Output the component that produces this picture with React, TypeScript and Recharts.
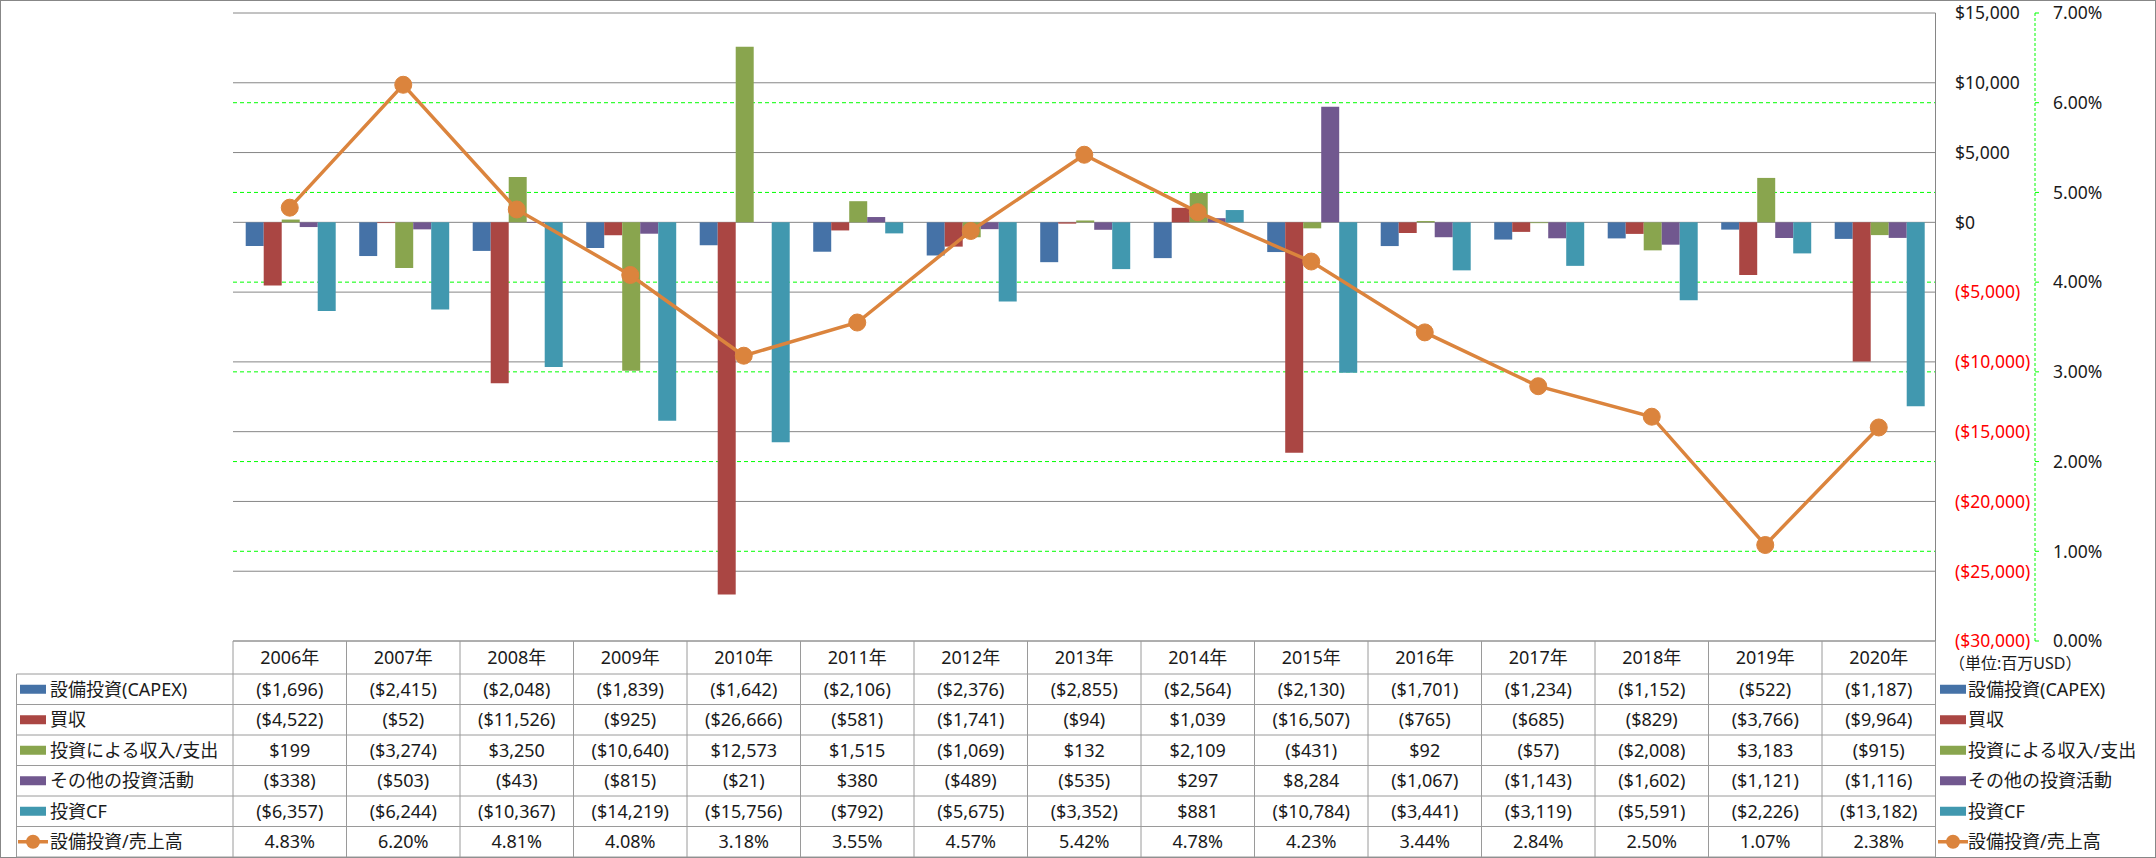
import React from "react";
import { ComposedChart, Bar, Line, XAxis, YAxis, CartesianGrid } from "recharts";

const years = ["2006年", "2007年", "2008年", "2009年", "2010年", "2011年", "2012年", "2013年", "2014年", "2015年", "2016年", "2017年", "2018年", "2019年", "2020年"];
const capex = [-1696, -2415, -2048, -1839, -1642, -2106, -2376, -2855, -2564, -2130, -1701, -1234, -1152, -522, -1187];
const acquisitions = [-4522, -52, -11526, -925, -26666, -581, -1741, -94, 1039, -16507, -765, -685, -829, -3766, -9964];
const investIncome = [199, -3274, 3250, -10640, 12573, 1515, -1069, 132, 2109, -431, 92, -57, -2008, 3183, -915];
const otherInvest = [-338, -503, -43, -815, -21, 380, -489, -535, 297, 8284, -1067, -1143, -1602, -1121, -1116];
const investCF = [-6357, -6244, -10367, -14219, -15756, -792, -5675, -3352, 881, -10784, -3441, -3119, -5591, -2226, -13182];
const capexRatio = [4.83, 6.2, 4.81, 4.08, 3.18, 3.55, 4.57, 5.42, 4.78, 4.23, 3.44, 2.84, 2.5, 1.07, 2.38];

const usdTicks = [15000, 10000, 5000, 0, -5000, -10000, -15000, -20000, -25000, -30000];
const pctTicks = [0, 1, 2, 3, 4, 5, 6, 7];

const barSeries = [
  { key: "capex", name: "設備投資(CAPEX)", color: "#4572A7", values: capex },
  { key: "acq", name: "買収", color: "#AA4643", values: acquisitions },
  { key: "income", name: "投資による収入/支出", color: "#89A54E", values: investIncome },
  { key: "other", name: "その他の投資活動", color: "#71588F", values: otherInvest },
  { key: "cf", name: "投資CF", color: "#4198AF", values: investCF },
];
const ratioName = "設備投資/売上高";
const ratioColor = "#DB843D";

const data = years.map((year, i) => {
  const row: Record<string, string | number> = { year, ratio: capexRatio[i] };
  barSeries.forEach((s) => (row[s.key] = s.values[i]));
  return row;
});

const FONT = "'Noto Sans', 'Noto Sans CJK JP', sans-serif";
const TEXT = "#1a1a1a";
const W = 2156;
const H = 858;
const PLOT_LEFT = 233;
const PLOT_TOP = 13;
const PLOT_BOTTOM = 641;
const AXIS1_W = 99.5;
const AXIS2_W = 100;
const RIGHT_MARGIN = 21;
const CHART_H = 660;
const PLOT_RIGHT = W - RIGHT_MARGIN - AXIS1_W - AXIS2_W;
const COL_W = (PLOT_RIGHT - PLOT_LEFT) / years.length;

const fmtUsd = (v: number) => {
  const s = "$" + Math.abs(v).toLocaleString("en-US");
  return v < 0 ? `(${s})` : s;
};
const fmtPct = (v: number) => v.toFixed(2) + "%";

const UsdTick = (props: any) => {
  const { x, y, payload } = props;
  const v = payload.value as number;
  return (
    <text x={x} y={y} dy="0.36em" textAnchor="start" fontSize={17.5} fontFamily={FONT} fill={v < 0 ? "#FF0000" : TEXT}>
      {fmtUsd(v)}
    </text>
  );
};

const PctTick = (props: any) => {
  const { x, y, payload } = props;
  return (
    <text x={x} y={y} dy="0.36em" textAnchor="start" fontSize={17.5} fontFamily={FONT} fill={TEXT}>
      {fmtPct(payload.value)}
    </text>
  );
};

function DataTable() {
  const headerTop = PLOT_BOTTOM;
  const headerBottom = 674;
  const rowH = 30.5;
  const tableLeft = 16.5;
  const lineColor = "#9a9a9a";
  const rows = [
    ...barSeries.map((s) => ({ name: s.name, color: s.color, cells: s.values.map(fmtUsd), line: false })),
    { name: ratioName, color: ratioColor, cells: capexRatio.map(fmtPct), line: true },
  ];
  const bottom = headerBottom + rows.length * rowH;
  const legendX = PLOT_RIGHT + 4.5;

  const swatch = (x: number, cy: number, color: string, line: boolean, key: string) =>
    line ? (
      <g key={key}>
        <line x1={x - 2} x2={x + 28} y1={cy} y2={cy} stroke={color} strokeWidth={3.5} />
        <circle cx={x + 13} cy={cy} r={7} fill={color} />
      </g>
    ) : (
      <rect key={key} x={x} y={cy - 4.5} width={26} height={9} fill={color} />
    );

  return (
    <svg width={W} height={H} style={{ position: "absolute", left: 0, top: 0 }} fontFamily={FONT}>
      {/* header row */}
      <line x1={PLOT_LEFT} x2={PLOT_RIGHT} y1={headerTop} y2={headerTop} stroke={lineColor} />
      {years.map((y, i) => (
        <text key={y} x={PLOT_LEFT + COL_W * (i + 0.5)} y={(headerTop + headerBottom) / 2} dy="0.36em" textAnchor="middle" fontSize={18} fill={TEXT}>
          {y}
        </text>
      ))}
      {/* horizontal lines */}
      {rows.map((_, r) => (
        <line key={"h" + r} x1={tableLeft} x2={PLOT_RIGHT} y1={headerBottom + r * rowH} y2={headerBottom + r * rowH} stroke={lineColor} />
      ))}
      <line x1={tableLeft} x2={PLOT_RIGHT} y1={bottom} y2={bottom} stroke={lineColor} />
      {/* vertical lines */}
      <line x1={tableLeft} x2={tableLeft} y1={headerBottom} y2={bottom} stroke={lineColor} />
      {years.map((_, i) => (
        <line key={"v" + i} x1={PLOT_LEFT + COL_W * i} x2={PLOT_LEFT + COL_W * i} y1={headerTop} y2={bottom} stroke={lineColor} />
      ))}
      <line x1={PLOT_RIGHT} x2={PLOT_RIGHT} y1={headerTop} y2={bottom} stroke={lineColor} />
      {/* rows */}
      {rows.map((row, r) => {
        const cy = headerBottom + (r + 0.5) * rowH;
        return (
          <g key={row.name}>
            {swatch(20, cy, row.color, row.line, "ls")}
            <text x={50} y={cy} dy="0.36em" fontSize={18} fill={TEXT}>
              {row.name}
            </text>
            {row.cells.map((c, i) => (
              <text key={i} x={PLOT_LEFT + COL_W * (i + 0.5)} y={cy} dy="0.36em" textAnchor="middle" fontSize={18} fill={TEXT}>
                {c}
              </text>
            ))}
            {swatch(legendX, cy, row.color, row.line, "rs")}
            <text x={legendX + 28} y={cy} dy="0.36em" fontSize={18} fill={TEXT}>
              {row.name}
            </text>
          </g>
        );
      })}
      <text x={1949} y={663} dy="0.36em" fontSize={16} fill={TEXT}>
        （単位:百万USD）
      </text>
    </svg>
  );
}

export default function App() {
  return (
    <div
      style={{
        position: "absolute",
        left: 0,
        top: 0,
        width: W,
        height: H,
        background: "#fff",
        fontFamily: FONT,
        boxSizing: "border-box",
        border: "1px solid #878787",
      }}
    >
      <div style={{ position: "absolute", left: -1, top: -1 }}>
        <ComposedChart
          width={W}
          height={CHART_H}
          data={data}
          margin={{ top: PLOT_TOP, left: PLOT_LEFT, right: RIGHT_MARGIN, bottom: CHART_H - PLOT_BOTTOM }}
          barGap={0}
          barCategoryGap="11.2%"
        >
          <CartesianGrid
            yAxisId="y2"
            vertical={false}
            stroke="#00FF00"
            strokeDasharray="4 3"
            horizontalValues={pctTicks.slice(1, -1)}
          />
          <CartesianGrid yAxisId="y1" vertical={false} stroke="#868686" />
          <XAxis dataKey="year" hide />
          <YAxis
            yAxisId="y1"
            orientation="right"
            domain={[-30000, 15000]}
            ticks={usdTicks}
            width={AXIS1_W}
            tickSize={0}
            tickMargin={19.5}
            tickLine={false}
            axisLine={{ stroke: "#868686" }}
            tick={<UsdTick />}
            interval={0}
          />
          <YAxis
            yAxisId="y2"
            orientation="right"
            domain={[0, 7]}
            ticks={pctTicks}
            width={AXIS2_W}
            tickSize={4}
            tickMargin={14}
            tickLine={{ stroke: "#00FF00" }}
            axisLine={{ stroke: "#00FF00", strokeDasharray: "3 2" }}
            tick={<PctTick />}
            interval={0}
          />
          {barSeries.map((s) => (
            <Bar key={s.key} yAxisId="y1" dataKey={s.key} name={s.name} fill={s.color} isAnimationActive={false} />
          ))}
          <Line
            yAxisId="y2"
            dataKey="ratio"
            name={ratioName}
            type="linear"
            stroke={ratioColor}
            strokeWidth={3.5}
            dot={{ r: 8.5, fill: ratioColor, stroke: ratioColor, strokeWidth: 1 }}
            isAnimationActive={false}
          />
        </ComposedChart>
      </div>
      <div style={{ position: "absolute", left: -1, top: -1 }}>
        <DataTable />
      </div>
    </div>
  );
}
